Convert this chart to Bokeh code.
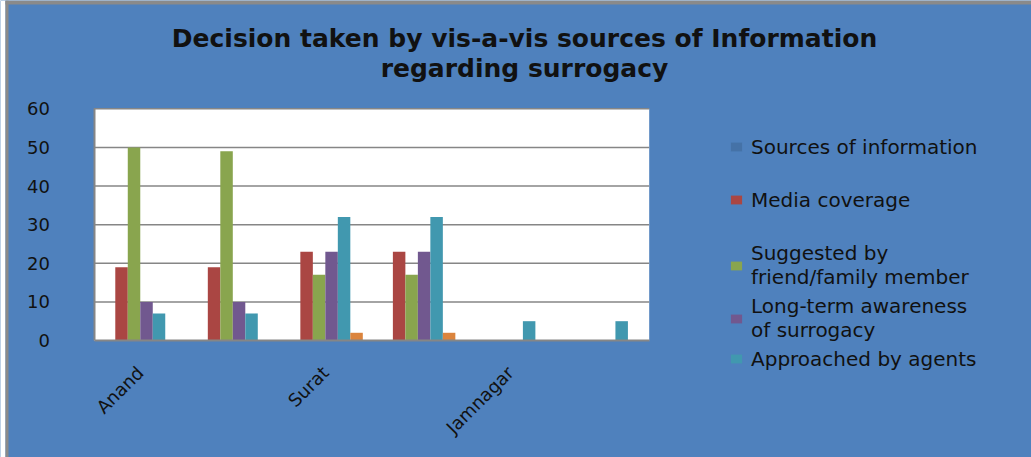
import math
from bokeh.plotting import figure
from bokeh.models import (Range1d, FixedTicker, Label, Legend, LegendItem,
                          ColumnDataSource, BoxAnnotation)
from bokeh.transform import dodge
from bokeh.embed import file_html
from bokeh.resources import INLINE

# ---------------- data ----------------
categories = ["Anand", "", "Surat", "", "Jamnagar", ""]
sources_of_information = [0, 0, 0, 0, 0, 0]
media_coverage = [19, 19, 23, 23, 0, 0]
suggested_by_friend = [50, 49, 17, 17, 0, 0]
long_term_awareness = [10, 10, 23, 23, 0, 0]
approached_by_agents = [7, 7, 32, 32, 5, 5]
unnamed_series = [0, 0, 2, 2, 0, 0]
series_labels = ["Sources of information", "Media coverage",
                 "Suggested by\nfriend/family member",
                 "Long-term awareness\nof surrogacy",
                 "Approached by agents", None]
y_ticks = [0, 10, 20, 30, 40, 50, 60]
title_lines = ["Decision taken by vis-a-vis sources of Information",
               "regarding surrogacy"]

# ---------------- layout / style ----------------
W, H = 1031, 457
PLOT_LEFT, PLOT_TOP, PLOT_W, PLOT_H = 93.5, 108.3, 555.2, 231.7
Y_MAX = y_ticks[-1]
BG = "#4F81BD"
GRID = "#868686"
colors = ["#4572A7", "#AA4643", "#89A54E", "#71588F", "#4198AF", "#DB843D"]
TEXT = "#111111"
FONT = "DejaVu Sans"
BAR_W = 0.135
legend_centers = [147, 200, 265.5, 318.5, 359]
ROW_H = 23.5

ncat = len(categories)
px_x = PLOT_W / ncat
px_y = PLOT_H / Y_MAX
x0r, x1r = -PLOT_LEFT / px_x, (W - PLOT_LEFT) / px_x
y0r, y1r = -(H - PLOT_TOP - PLOT_H) / px_y, Y_MAX + PLOT_TOP / px_y

series = [sources_of_information, media_coverage, suggested_by_friend,
          long_term_awareness, approached_by_agents, unnamed_series]

xc = [i + 0.5 for i in range(ncat)]
data = {"x": xc}
for j, s in enumerate(series):
    data[f"s{j}"] = s
src = ColumnDataSource(data)

p = figure(width=W, height=H, output_backend="svg", toolbar_location=None,
           title=None, min_border=0,
           x_range=Range1d(x0r, x1r), y_range=Range1d(y0r, y1r))
p.background_fill_color = BG
p.border_fill_color = BG
p.outline_line_color = None
p.xgrid.grid_line_color = None
p.ygrid.grid_line_color = None

# chart-area frame edge (white margin + grey line at left, grey line at top)
p.add_layout(BoxAnnotation(left=x0r, right=x0r + 5 / px_x, fill_color="white",
                           fill_alpha=1, line_color=None, level="underlay"))
p.add_layout(BoxAnnotation(left=x0r + 5 / px_x, right=x0r + 8 / px_x,
                           fill_color="#8a8a8a", fill_alpha=1,
                           line_color=None, level="underlay"))
p.add_layout(BoxAnnotation(left=x0r + 5 / px_x, bottom=y1r - 4 / px_y,
                           fill_color="#8a8a8a", fill_alpha=1,
                           line_color=None, level="underlay"))

# white plot area
p.add_layout(BoxAnnotation(left=0, right=ncat, bottom=0, top=Y_MAX,
                           fill_color="white", fill_alpha=1,
                           line_color=None, level="underlay"))
# horizontal gridlines
p.segment(x0=0, x1=ncat, y0=y_ticks[1:], y1=y_ticks[1:],
          line_color=GRID, line_width=1.5)

renderers = []
n = len(series)
for j in range(n):
    off = (j - (n - 1) / 2) * BAR_W
    r = p.vbar(x=dodge("x", off, range=p.x_range), top=f"s{j}", bottom=0,
               width=BAR_W, source=src, fill_color=colors[j], line_color=None)
    renderers.append(r)

# axes drawn at the plot-area edges
p.xaxis.fixed_location = 0
p.yaxis.fixed_location = 0
p.xaxis.bounds = (0, ncat)
p.yaxis.bounds = (0, Y_MAX)
p.yaxis.ticker = FixedTicker(ticks=y_ticks)
p.xaxis.ticker = FixedTicker(ticks=xc)
p.xaxis.major_label_overrides = {x: c for x, c in zip(xc, categories)}
p.xaxis.major_label_orientation = math.pi / 4
for ax in (p.xaxis, p.yaxis):
    ax.axis_line_color = GRID
    ax.axis_line_width = 2
    ax.major_tick_line_color = None
    ax.minor_tick_line_color = None
    ax.major_label_text_font = FONT
    ax.major_label_text_font_size = "18px"
    ax.major_label_text_color = TEXT
p.yaxis.major_label_standoff = 38
p.xaxis.major_label_standoff = 23

# title
for txt, cy in zip(title_lines, [38, 68]):
    p.add_layout(Label(x=524, y=H - cy, x_units="screen", y_units="screen",
                       text=txt, text_align="center", text_baseline="middle",
                       text_font=FONT, text_font_style="bold",
                       text_font_size="25px", text_color=TEXT))

# legend: one block per entry, placed at the reference positions
k = 0
for j, lab in enumerate(series_labels):
    if lab is None:
        continue
    nlines = lab.count("\n") + 1
    bottom = H - (legend_centers[k] + nlines * ROW_H / 2)
    k += 1
    leg = Legend(items=[LegendItem(label=lab, renderers=[renderers[j]])],
                 location=(729, bottom), background_fill_alpha=0,
                 border_line_color=None, padding=0, margin=0,
                 glyph_width=14, glyph_height=11, label_standoff=8,
                 label_text_font=FONT, label_text_font_size="20px",
                 label_text_color=TEXT)
    p.add_layout(leg)

open("out.html", "w").write(file_html(p, INLINE))
